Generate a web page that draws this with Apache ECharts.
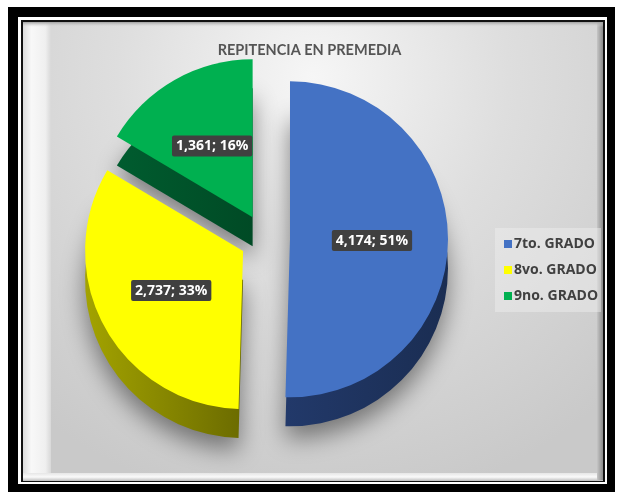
<!DOCTYPE html>
<html>
<head>
<meta charset="utf-8">
<script src="https://cdn.jsdelivr.net/npm/echarts@6/dist/echarts.min.js"></script>
<style>
html,body{margin:0;padding:0;background:#fff;}
#c{width:619px;height:497px;}
</style>
</head>
<body>
<div id="c"></div>
<script>
const titleText = 'REPITENCIA EN PREMEDIA';
const categories = ['7to. GRADO', '8vo. GRADO', '9no. GRADO'];
const values = [4174, 2737, 1361];
const topColors = ['#4472c4', '#ffff00', '#00b050'];
const sideColors = [['#22396a', '#1a2d52'], ['#a3a300', '#6b6b00'], ['#005c2f', '#004a25']];

const chart = echarts.init(document.getElementById('c'));
const center = [265, 239];
const depth = 29;
const R = 158;
const offset = 25;

function fmt(n) { return n.toLocaleString('en-US'); }

const topData = categories.map((name, i) => ({
  name, value: values[i], selected: true,
  itemStyle: { color: topColors[i] }
}));
const sideData = categories.map((name, i) => ({
  name, value: values[i], selected: true,
  itemStyle: {
    color: new echarts.graphic.LinearGradient(0, 0, 1, 0, [
      { offset: 0, color: sideColors[i][0] }, { offset: 1, color: sideColors[i][1] }
    ]),
    shadowColor: 'rgba(0,0,0,0.45)', shadowBlur: 24, shadowOffsetX: 0, shadowOffsetY: 12
  }
}));
const legendData = categories.map((name, i) => ({ name, itemStyle: { color: topColors[i] } }));

chart.setOption({
  animation: false,
  backgroundColor: '#ffffff',
  graphic: [
    { type: 'rect', z: -10, shape: { x: 8, y: 7, width: 607, height: 485 }, style: { fill: '#000' } },
    { type: 'rect', z: -9, shape: { x: 18, y: 17, width: 589, height: 467 }, style: { fill: '#fff' } },
    { type: 'rect', z: -8, shape: { x: 21, y: 20, width: 584, height: 462 }, style: { fill: '#111' } },
    { type: 'rect', z: -7, shape: { x: 23, y: 22, width: 580, height: 458 }, style: {
      fill: new echarts.graphic.RadialGradient(0.5, 0.12, 0.95, [
        { offset: 0, color: '#f6f6f6' }, { offset: 0.45, color: '#dedede' }, { offset: 1, color: '#c9c9c9' }
      ]) } },
    { type: 'rect', z: -6, shape: { x: 23, y: 22, width: 28, height: 458 }, style: {
      fill: new echarts.graphic.LinearGradient(0, 0, 1, 0, [
        { offset: 0, color: '#dcdcdc' }, { offset: 0.3, color: '#f8f8f8' }, { offset: 0.8, color: '#efefef' }, { offset: 1, color: '#d8d8d8' }
      ]) } },
    { type: 'rect', z: -6, shape: { x: 23, y: 473, width: 580, height: 8 }, style: {
      fill: new echarts.graphic.LinearGradient(0, 0, 0, 1, [
        { offset: 0, color: '#e6e6e6' }, { offset: 0.5, color: '#fafafa' }, { offset: 1, color: '#bdbdbd' }
      ]) } },
    { type: 'rect', z: -6, shape: { x: 597, y: 22, width: 6, height: 458 }, style: {
      fill: new echarts.graphic.LinearGradient(0, 0, 1, 0, [
        { offset: 0, color: '#c6c6c6' }, { offset: 1, color: '#8a8a8a' }
      ]) } },
    { type: 'rect', z: -6, shape: { x: 23, y: 22, width: 580, height: 5 }, style: {
      fill: new echarts.graphic.LinearGradient(0, 0, 0, 1, [
        { offset: 0, color: '#a0a0a0' }, { offset: 1, color: 'rgba(220,220,220,0)' }
      ]) } },
    { type: 'rect', z: -5, shape: { x: 495, y: 228, width: 106, height: 84 }, style: { fill: 'rgba(240,240,240,0.45)' } }
  ],
  title: {
    text: titleText,
    left: 'center',
    top: 38,
    textStyle: { fontFamily: 'Lato', fontSize: 14.5, fontWeight: 'bold', color: '#555555' }
  },
  legend: {
    orient: 'vertical',
    left: 499,
    top: 232,
    itemWidth: 8,
    itemHeight: 8,
    itemGap: 12,
    icon: 'rect',
    selectedMode: false,
    data: legendData,
    textStyle: { fontFamily: 'Open Sans', fontSize: 14, fontWeight: 'bold', color: '#404040', padding: [0, 0, 0, -3] }
  },
  series: [
    {
      type: 'pie',
      name: 'side',
      z: 1,
      center: [center[0], center[1] + depth],
      radius: [0, R],
      startAngle: 90,
      clockwise: true,
      selectedMode: 'multiple',
      selectedOffset: offset,
      silent: true,
      percentPrecision: 0,
      label: { show: false },
      labelLine: { show: false },
      emphasis: { disabled: true },
      data: sideData
    },
    {
      type: 'pie',
      name: 'top',
      z: 2,
      center: center,
      radius: [0, R],
      startAngle: 90,
      clockwise: true,
      selectedMode: 'multiple',
      selectedOffset: offset,
      silent: true,
      percentPrecision: 0,
      emphasis: { disabled: true },
      labelLine: { show: false },
      label: {
        show: true,
        position: 'inside',
        formatter: p => fmt(p.value) + '; ' + p.percent + '%',
        fontFamily: 'Open Sans',
        fontWeight: 'bold',
        fontSize: 14,
        color: '#ffffff',
        backgroundColor: '#404040',
        padding: [4, 4, 3, 4],
        borderRadius: 2
      },
      data: topData
    }
  ]
});
</script>
</body>
</html>
